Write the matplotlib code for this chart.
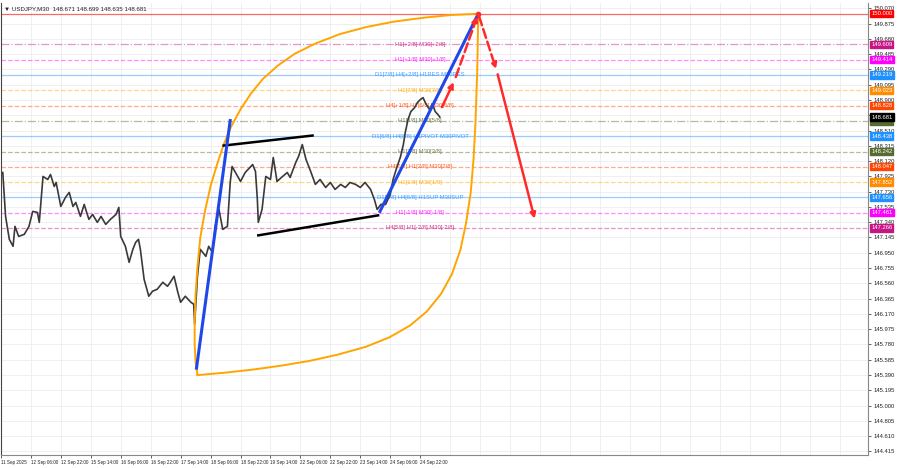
import matplotlib.pyplot as plt
import numpy as np

plt.rcParams['font.family'] = ['Liberation Sans', 'DejaVu Sans']

# price series (bar index, close)
bars = [2, 5, 9, 13, 15, 19, 25, 30, 34, 39, 41, 45, 50, 53, 57, 59, 64, 69, 73, 77,
        80, 85, 89, 94, 98, 103, 107, 112, 117, 123, 126, 128, 133, 137, 141, 144, 147, 149, 153, 158,
        162, 167, 173, 178, 181, 185, 189, 192, 197, 203, 206, 207, 210, 213, 219, 222, 226, 229, 233, 237,
        242, 245, 247, 253, 256, 261, 269, 272, 274, 275, 279, 283, 288, 291, 295, 301, 306, 309, 315, 318,
        322, 326, 331, 336, 341, 347, 352, 357, 363, 368, 373, 379, 384, 389, 395, 399, 402, 406, 411, 416,
        419, 423, 427, 430, 432, 435, 438, 442, 445, 448, 451, 454, 458, 461, 464, 467, 469]
closes = [147.974, 147.414, 147.121, 147.032, 147.287, 147.159, 147.185, 147.287, 147.478, 147.465,
          147.338, 147.924, 147.885, 147.949, 147.796, 147.847, 147.541, 147.656, 147.720, 147.541,
          147.592, 147.414, 147.567, 147.376, 147.439, 147.338, 147.414, 147.312, 147.376, 147.439,
          147.529, 147.159, 147.032, 146.828, 146.994, 147.083, 147.121, 146.994, 146.611, 146.395,
          146.459, 146.484, 146.573, 146.522, 146.573, 146.650, 146.446, 146.318, 146.395, 146.318,
          146.293, 146.038, 146.650, 146.994, 146.904, 147.032, 146.955, 147.287, 147.503, 147.248,
          147.287, 147.847, 148.051, 147.924, 147.860, 147.974, 148.076, 147.987, 147.631, 147.338,
          147.503, 147.924, 147.885, 148.166, 147.860, 147.924, 147.974, 147.911, 148.102, 148.178,
          148.331, 148.140, 147.987, 147.822, 147.885, 147.783, 147.847, 147.758, 147.822, 147.783,
          147.847, 147.822, 147.783, 147.847, 147.758, 147.631, 147.503, 147.567, 147.567, 147.694,
          147.885, 148.038, 148.178, 148.331, 148.484, 148.650, 148.752, 148.802, 148.866, 148.904,
          148.930, 148.853, 148.777, 148.853, 148.752, 148.713, 148.681]

# murrey levels
levels = [150.000, 149.609, 149.414, 149.219, 149.023, 148.828, 148.633, 148.438,
          148.242, 148.047, 147.852, 147.656, 147.461, 147.266]
level_labels = ["", "H1[+2/8] M30[+2/8]", "H1[+1/8] M30[+1/8]", "D1[7/8] H4[+2/8] H1RES M30RES",
                "H1[7/8] M30[7/8]", "H4[+1/8] H1[6/8] M30[6/8]", "H1[5/8] M30[5/8]",
                "D1[6/8] H4[8/8] H1PIVOT M30PIVOT", "H1[3/8] M30[3/8]", "H4[7/8] H1[2/8] M30[2/8]",
                "H1[1/8] M30[1/8]", "D1[5/8] H4[6/8] H1SUP M30SUP", "H1[-1/8] M30[-1/8]",
                "H4[5/8] H1[-2/8] M30[-2/8]"]
level_colors = ["#FF0000", "#C71585", "#FF00FF", "#1E90FF", "#FFA500", "#FF4500", "#556B2F",
                "#1E90FF", "#556B2F", "#FF4500", "#FFA500", "#1E90FF", "#FF00FF", "#C71585"]
level_styles = ["-", "-.", "--", "-", "--", "--", "-.", "-", "--", "--", "--", "-", "--", "--"]

# drawings
blue_legs = [([209, 245], [145.478, 148.637]), ([405, 510], [147.478, 150.000])]
channel = [([238, 333], [148.318, 148.446]), ([275, 403], [147.172, 147.427])]
arc_left_bars = [210, 208, 207, 207, 208, 210, 213, 218, 224, 231, 238, 246, 256, 267, 280,
                 296, 314, 336, 362, 390, 420, 452, 482, 510]
arc_left_px = [145.388, 145.560, 145.783, 146.070, 146.420, 146.770, 147.140, 147.480, 147.800,
               148.080, 148.330, 148.560, 148.780, 148.980, 149.170, 149.340, 149.490, 149.620,
               149.740, 149.830, 149.900, 149.950, 149.985, 150.000]
arc_right_bars = [210, 240, 270, 300, 330, 360, 390, 415, 437, 455, 470, 482, 491, 497, 502,
                  505, 507, 509, 510]
arc_right_px = [145.388, 145.420, 145.460, 145.510, 145.570, 145.650, 145.750, 145.870, 146.020,
                146.200, 146.420, 146.680, 146.990, 147.330, 147.720, 148.150, 148.600, 149.300,
                150.000]
red_path = [(470, 148.777), (485, 149.159), (510, 150.000), (530, 149.261), (571, 147.350)]
red_dash = [False, True, True, False]

time_labels = ["11 Sep 2025", "12 Sep 06:00", "12 Sep 22:00", "15 Sep 14:00", "16 Sep 06:00",
               "16 Sep 22:00", "17 Sep 14:00", "18 Sep 06:00", "18 Sep 22:00", "19 Sep 14:00",
               "22 Sep 06:00", "22 Sep 22:00", "23 Sep 14:00", "24 Sep 06:00", "24 Sep 22:00"]

fig = plt.figure(figsize=(9, 4.68), dpi=100)
ax = fig.add_axes([0.001, 0.028, 0.963, 0.966])
xmax = 926
ax.set_xlim(0, xmax)
ax.set_ylim(144.37, 150.14)

# grid
price_ticks = [round(150.070 - 0.195 * k, 3) for k in range(30)]
for p in price_ticks:
    ax.axhline(p, color="#ececec", lw=0.6, zorder=0)
for b in range(0, xmax, 32):
    ax.axvline(b, color="#ececec", lw=0.6, zorder=0)

# levels
for lv, lab, c, ls in zip(levels, level_labels, level_colors, level_styles):
    ax.axhline(lv, color=c, ls=ls, lw=0.9, alpha=0.6 if lv == 150.0 else 0.45, zorder=1)
    if lab:
        ax.text(448, lv, lab, color=c, fontsize=4.2, ha="center", va="center", alpha=0.85, zorder=2)

# price
ax.plot(bars, closes, color="#3a3a3a", lw=1.2, zorder=3)

# drawings
ax.plot(arc_left_bars, arc_left_px, color="#FFA500", lw=1.4, zorder=4)
ax.plot(arc_right_bars, arc_right_px, color="#FFA500", lw=1.4, zorder=4)
for xs, ys in channel:
    ax.plot(xs, ys, color="black", lw=1.8, zorder=4)
for xs, ys in blue_legs:
    ax.plot(xs, ys, color="#2047e8", lw=2.2, zorder=5)
for (x0, y0), (x1, y1), dash in zip(red_path[:-1], red_path[1:], red_dash):
    ax.annotate("", xy=(x1, y1), xytext=(x0, y0),
                arrowprops=dict(arrowstyle="-|>", color="#ff2a2a", lw=1.8,
                                ls="--" if dash else "-", mutation_scale=8), zorder=6)
ax.plot([510], [150.0], marker="o", color="#ff2a2a", ms=3, zorder=6)

# axes look
ax.spines["top"].set_visible(False)
ax.spines["right"].set_color("#888888")
ax.spines["bottom"].set_color("#888888")
ax.spines["left"].set_color("#444444")
ax.yaxis.tick_right()
hidden = {148.705}
ax.set_yticks(price_ticks)
ax.set_yticklabels(["" if p in hidden else f"{p:.3f}" for p in price_ticks], fontsize=4.2)
ax.tick_params(axis="y", length=2, pad=2, colors="#222222", width=0.5)
ax.set_xticks([32 * i for i in range(len(time_labels))])
ax.set_xticklabels(time_labels, fontsize=3.3, ha="left")
ax.tick_params(axis="x", length=2, pad=1.5, colors="#222222", width=0.5)

# price boxes on right scale
box_levels = levels + [148.681]
box_colors = ["#FF0000", "#C71585", "#FF00FF", "#1E90FF", "#FF8C00", "#FF4500", "#556B2F",
              "#1E90FF", "#556B2F", "#FF4500", "#FF8C00", "#1E90FF", "#FF00FF", "#C71585", "#000000"]
trans = ax.get_yaxis_transform()
for lv, c in zip(box_levels, box_colors):
    ax.text(1.004, lv, f"{lv:.3f}", transform=trans, fontsize=4.2, color="white", va="center",
            ha="left", clip_on=False, zorder=10,
            bbox=dict(boxstyle="square,pad=0.2", fc=c, ec=c))

ax.text(0.004, 0.992, "\u25bc USDJPY,M30  148.671 148.699 148.635 148.681", transform=ax.transAxes,
        fontsize=4.4, va="top", ha="left", color="#222222")

fig.savefig("out.png", dpi=100)
